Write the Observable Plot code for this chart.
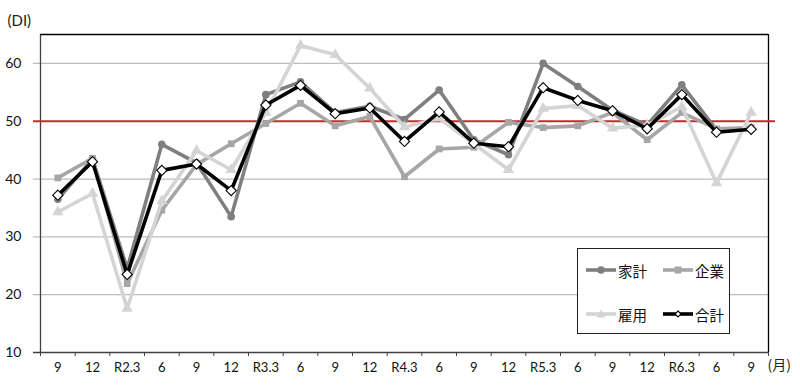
<!DOCTYPE html>
<html><head><meta charset="utf-8">
<script src="https://cdn.jsdelivr.net/npm/d3@7"></script>
<script src="https://cdn.jsdelivr.net/npm/@observablehq/plot@0.6"></script>
<style>
body{margin:0;background:#fff;}
#wrap{position:relative;width:800px;height:385px;font-family:"Noto Sans CJK JP",sans-serif;}
#legend{position:absolute;left:577px;top:248px;width:153px;height:86px;border:1px solid #222;background:#fff;box-sizing:border-box;}
.item{position:absolute;display:flex;align-items:center;font-size:14.5px;color:#111;height:20px;}
.item svg{display:block;margin-right:1px;}
</style></head><body><div id="wrap"></div>
<script>
const labels = ["9","12","R2.3","6","9","12","R3.3","6","9","12","R4.3","6","9","12","R5.3","6","9","12","R6.3","6","9"];
const household  = [36.5,43.5,24.5,46.0,42.8,33.5,54.6,56.8,51.5,52.6,50.3,55.4,46.8,44.2,60.0,56.0,51.9,49.3,56.3,48.5,48.6];
const corporate  = [40.2,43.6,21.9,34.6,42.5,46.1,49.6,53.1,49.2,50.8,40.4,45.2,45.5,49.8,48.9,49.2,51.5,46.8,51.5,48.7,48.9];
const employment = [34.3,37.5,17.6,36.2,44.9,41.6,51.5,63.1,61.5,55.7,49.0,50.5,46.1,41.6,52.2,52.7,48.8,49.3,52.5,39.3,51.5];
const total      = [37.2,43.0,23.5,41.5,42.6,38.0,52.8,56.2,51.3,52.3,46.5,51.6,46.2,45.6,55.8,53.6,51.8,48.7,54.6,48.1,48.6];
const seriesNames  = ["家計","企業","雇用","合計"];
const seriesColors = ["#7f7f7f","#a6a6a6","#d4d4d4","#000000"];
const yTicks = [10,20,30,40,50,60];
const gridValues = [20,30,40,60];
const refLevel = 50;
const yMin = 10, yMax = 65;

const idx = labels.map((_, i) => i);
const boundaries = d3.range(-0.5, labels.length, 1);
const rows = (vals, name) => vals.map((v, i) => ({i, v, name}));
const data = [household, corporate, employment, total].map((vals, k) => rows(vals, seriesNames[k]));

const lineOpts = (k) => ({x: "i", y: "v", stroke: seriesColors[k], strokeWidth: 3.6, strokeLinejoin: "round", strokeLinecap: "round"});

const plot = Plot.plot({
  width: 800, height: 385,
  marginLeft: 40, marginRight: 32, marginTop: 34, marginBottom: 33,
  x: {type: "linear", domain: [-0.5, labels.length - 0.5]},
  y: {domain: [yMin, yMax]},
  style: {fontFamily: 'Lato, "Noto Sans CJK JP", sans-serif', fontSize: "13px", color: "#111", background: "#fff", overflow: "visible"},
  marks: [
    Plot.ruleY(gridValues, {stroke: "#bdbdbd", strokeWidth: 1.3, insetLeft: -7}),
    Plot.ruleY([yMin], {stroke: "#404040", strokeWidth: 1.3, insetLeft: -7}),
    Plot.ruleX([-0.5], {stroke: "#404040", strokeWidth: 1.3}),
    Plot.ruleY([yMax], {stroke: "#000", strokeWidth: 1.3}),
    Plot.ruleX([labels.length - 0.5], {stroke: "#000", strokeWidth: 1.3}),
    Plot.axisY({ticks: yTicks, tickSize: 0, tickPadding: 19, label: null, fontSize: 14}),
    Plot.axisX({ticks: boundaries, tickSize: 4, tickFormat: () => "", label: null, stroke: "#404040"}),
    Plot.axisX({ticks: idx, tickSize: 0, tickPadding: 10, tickFormat: i => labels[i], label: null}),
    Plot.ruleY([refLevel], {stroke: "#c42b2b", strokeWidth: 2.2, insetLeft: -7, insetRight: -7}),
    Plot.line(data[0], lineOpts(0)),
    Plot.dot(data[0], {x: "i", y: "v", symbol: "circle", r: 3.8, fill: seriesColors[0]}),
    Plot.line(data[1], lineOpts(1)),
    Plot.dot(data[1], {x: "i", y: "v", symbol: "square", r: 3.8, fill: seriesColors[1]}),
    Plot.line(data[2], lineOpts(2)),
    Plot.dot(data[2], {x: "i", y: "v", symbol: "triangle", r: 4.2, fill: seriesColors[2]}),
    Plot.line(data[3], {...lineOpts(3), strokeWidth: 3.6}),
    Plot.dot(data[3], {x: "i", y: "v", symbol: "diamond2", r: 4.6, fill: "#fff", stroke: "#000", strokeWidth: 1.1}),
    Plot.text(["(DI)"], {frameAnchor: "top-left", dx: -33, dy: -19, textAnchor: "start", fontSize: 15, fill: "#222"}),
    Plot.text(["(月)"], {frameAnchor: "bottom-right", dx: -1, dy: 17, textAnchor: "start", fontSize: 14, fill: "#222", fontFamily: '"Noto Sans CJK JP", sans-serif'})
  ]
});

const wrap = document.getElementById("wrap");
wrap.appendChild(plot);

// Legend (inside plot area, as in the reference)
const markerSvg = (k) => {
  const c = seriesColors[k];
  let m = "";
  if (k === 0) m = `<circle cx="16" cy="10" r="3.8" fill="${c}"/>`;
  if (k === 1) m = `<rect x="12.5" y="6.5" width="7" height="7" fill="${c}"/>`;
  if (k === 2) m = `<path d="M16,5.5 L20.5,13.5 L11.5,13.5 Z" fill="${c}"/>`;
  if (k === 3) m = `<path d="M16,7 L19,10 L16,13 L13,10 Z" fill="#fff" stroke="#000" stroke-width="1.1"/>`;
  return `<svg width="32" height="20"><line x1="1" y1="10" x2="31" y2="10" stroke="${c}" stroke-width="3.6"/>${m}</svg>`;
};
const legend = document.createElement("div");
legend.id = "legend";
const pos = [[7, 11], [84, 11], [7, 55], [84, 55]];
seriesNames.forEach((name, k) => {
  const it = document.createElement("div");
  it.className = "item";
  it.style.left = pos[k][0] + "px";
  it.style.top = pos[k][1] + "px";
  it.innerHTML = markerSvg(k) + `<span>${name}</span>`;
  legend.appendChild(it);
});
wrap.appendChild(legend);
</script>
</body></html>
